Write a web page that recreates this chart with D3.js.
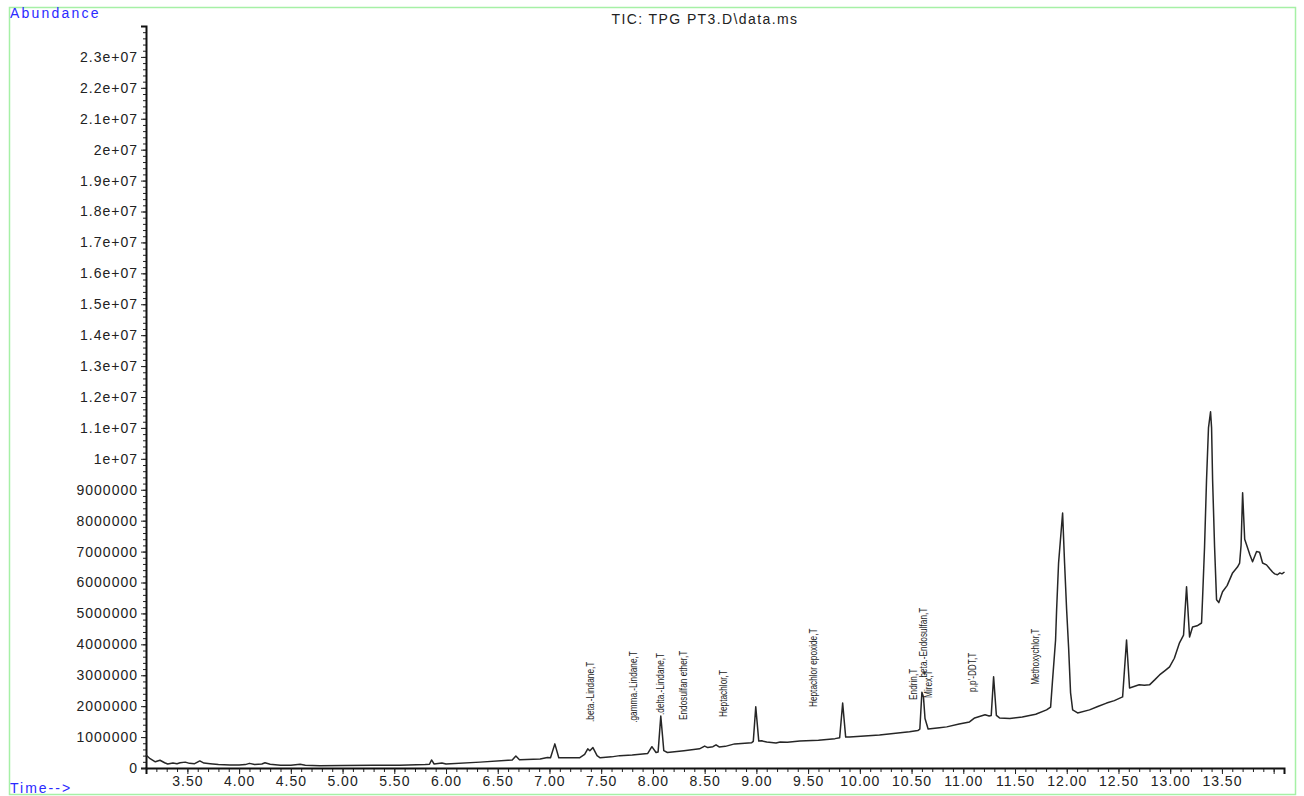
<!DOCTYPE html>
<html>
<head>
<meta charset="utf-8">
<script src="https://cdn.jsdelivr.net/npm/d3@7"></script>
<style>
  body { margin: 0; background: #fff; }
  svg text { font-family: "Liberation Sans", Arial, sans-serif; }
</style>
</head>
<body>
<div id="chart"></div>
<script>

// retention time (min) and total ion count
var rt = [3.10, 3.14, 3.19, 3.235, 3.28, 3.31, 3.36, 3.40, 3.43, 3.48, 3.52, 3.57, 3.62, 3.66, 3.72, 3.80, 3.91, 4.00, 4.06, 4.10,
  4.15, 4.22, 4.25, 4.30, 4.40, 4.50, 4.59, 4.64, 4.78, 5.00, 5.30, 5.55, 5.80, 5.84, 5.86, 5.885, 5.96, 6.00, 6.33, 6.60,
  6.64, 6.675, 6.71, 6.91, 6.98, 7.01, 7.052, 7.09, 7.29, 7.34, 7.37, 7.39, 7.42, 7.46, 7.49, 7.60, 7.68, 7.80, 7.95, 7.99,
  8.03, 8.05, 8.076, 8.105, 8.14, 8.30, 8.45, 8.50, 8.53, 8.58, 8.61, 8.64, 8.70, 8.79, 8.955, 8.97, 8.994, 9.023, 9.05, 9.10,
  9.19, 9.23, 9.30, 9.42, 9.60, 9.76, 9.805, 9.834, 9.863, 9.90, 10.19, 10.48, 10.56, 10.58, 10.60, 10.615, 10.63, 10.66, 10.77, 10.84,
  10.96, 11.06, 11.11, 11.21, 11.25, 11.27, 11.293, 11.32, 11.35, 11.45, 11.57, 11.70, 11.805, 11.844, 11.863, 11.892, 11.902, 11.921, 11.96, 11.979,
  11.999, 12.018, 12.037, 12.057, 12.105, 12.22, 12.30, 12.385, 12.46, 12.54, 12.578, 12.607, 12.70, 12.75, 12.80, 12.85, 12.897, 12.95, 12.994, 13.04,
  13.09, 13.129, 13.158, 13.187, 13.216, 13.26, 13.303, 13.313, 13.332, 13.351, 13.37, 13.39, 13.40, 13.41, 13.429, 13.448, 13.47, 13.506, 13.55, 13.603,
  13.65, 13.671, 13.685, 13.70, 13.72, 13.738, 13.77, 13.796, 13.835, 13.864, 13.893, 13.931, 13.96, 13.989, 14.01, 14.037, 14.06, 14.08, 14.105];

var abundance = [420000, 300000, 200000, 250000, 170000, 130000, 160000, 140000, 170000, 190000, 150000, 140000, 230000, 160000, 140000, 110000, 100000, 100000, 110000, 150000,
  110000, 130000, 170000, 120000, 90000, 90000, 120000, 90000, 70000, 80000, 85000, 90000, 110000, 120000, 260000, 130000, 160000, 130000, 190000, 250000,
  260000, 390000, 270000, 290000, 340000, 330000, 780000, 330000, 330000, 440000, 620000, 560000, 660000, 400000, 330000, 360000, 400000, 420000, 470000, 690000,
  500000, 520000, 1680000, 560000, 500000, 560000, 620000, 710000, 660000, 690000, 750000, 680000, 700000, 780000, 820000, 860000, 1980000, 870000, 880000, 840000,
  810000, 840000, 830000, 870000, 900000, 950000, 980000, 2100000, 1000000, 1000000, 1070000, 1170000, 1210000, 1260000, 2450000, 2300000, 1600000, 1260000, 1300000, 1330000,
  1420000, 1490000, 1620000, 1720000, 1680000, 1700000, 2950000, 1700000, 1620000, 1600000, 1650000, 1740000, 1880000, 1970000, 2850000, 4140000, 5110000, 6630000, 8250000, 6630000,
  5110000, 3900000, 2430000, 1880000, 1780000, 1880000, 1990000, 2100000, 2180000, 2300000, 4140000, 2590000, 2690000, 2680000, 2690000, 2850000, 3010000, 3150000, 3270000, 3550000,
  4050000, 4300000, 5860000, 4240000, 4560000, 4600000, 4690000, 5500000, 7150000, 9300000, 11000000, 11520000, 11000000, 9300000, 7150000, 5440000, 5350000, 5700000, 5900000, 6310000,
  6500000, 6630000, 7200000, 8900000, 7400000, 7220000, 6900000, 6670000, 7000000, 6980000, 6630000, 6570000, 6450000, 6340000, 6280000, 6250000, 6310000, 6280000, 6340000];

// compound annotations: name, retention time, abundance where the label starts
var peakNames = [".beta.-Lindane,T", ".gamma.-Lindane,T", ".delta.-Lindane,T", "Endosulfan ether,T", "Heptachlor,T",
  "Heptachlor epoxide,T", "Endrin,T", ".beta.-Endosulfan,T", "Mirex,T", "p,p'-DDT,T", "Methoxychlor,T"];
var peakRt = [7.39, 7.805, 8.066, 8.288, 8.675, 9.544, 10.51, 10.607, 10.656, 11.08, 11.689];
var peakLabelBase = [1490000, 1460000, 1715000, 1550000, 1650000, 1970000, 2200000, 2850000, 2265000, 2460000, 2690000];

var yTickValues = [0, 1000000, 2000000, 3000000, 4000000, 5000000, 6000000, 7000000, 8000000, 9000000, 10000000, 11000000,
  12000000, 13000000, 14000000, 15000000, 16000000, 17000000, 18000000, 19000000, 20000000, 21000000, 22000000, 23000000];
var yTickLabels = ["0", "1000000", "2000000", "3000000", "4000000", "5000000", "6000000", "7000000", "8000000", "9000000", "1e+07", "1.1e+07",
  "1.2e+07", "1.3e+07", "1.4e+07", "1.5e+07", "1.6e+07", "1.7e+07", "1.8e+07", "1.9e+07", "2e+07", "2.1e+07", "2.2e+07", "2.3e+07"];
var xTickValues = [3.5, 4.0, 4.5, 5.0, 5.5, 6.0, 6.5, 7.0, 7.5, 8.0, 8.5, 9.0, 9.5, 10.0, 10.5, 11.0, 11.5, 12.0, 12.5, 13.0, 13.5, 14.0];
var xTickLabels = ["3.50", "4.00", "4.50", "5.00", "5.50", "6.00", "6.50", "7.00", "7.50", "8.00", "8.50", "9.00", "9.50", "10.00",
  "10.50", "11.00", "11.50", "12.00", "12.50", "13.00", "13.50", ""];


var width = 1304, height = 796;
var plotLeft = 146, plotRight = 1284, plotTop = 26, plotBottom = 768;

var svg = d3.select("#chart").append("svg")
  .attr("width", width)
  .attr("height", height);

// light green frame
svg.append("rect")
  .attr("x", 9.5).attr("y", 7.5)
  .attr("width", 1286).attr("height", 787)
  .attr("fill", "none")
  .attr("stroke", "#a6f0a6")
  .attr("stroke-width", 1.5);

var x = d3.scaleLinear().domain([3.1, 14.1]).range([plotLeft, plotRight]);
var y = d3.scaleLinear().domain([0, 24000000]).range([plotBottom, plotTop]);

// minor ticks first
svg.append("g")
  .attr("class", "y minor")
  .attr("transform", "translate(" + plotLeft + ",0)")
  .call(d3.axisLeft(y).tickValues(d3.range(0, 24000001, 200000)).tickSize(3).tickFormat(""))
  .call(function(g) { g.select(".domain").remove(); });

svg.append("g")
  .attr("class", "x minor")
  .attr("transform", "translate(0," + plotBottom + ")")
  .call(d3.axisBottom(x).tickValues(d3.range(3.2, 14.11, 0.1)).tickSize(4).tickFormat(""))
  .call(function(g) { g.select(".domain").remove(); });

var yAxis = svg.append("g")
  .attr("class", "y axis")
  .attr("transform", "translate(" + plotLeft + ",0)")
  .call(d3.axisLeft(y).tickValues(yTickValues).tickSizeOuter(0).tickSize(5).tickPadding(3)
    .tickFormat(function(d, i) { return yTickLabels[i]; }));

var xAxis = svg.append("g")
  .attr("class", "x axis")
  .attr("transform", "translate(0," + plotBottom + ")")
  .call(d3.axisBottom(x).tickValues(xTickValues).tickSizeOuter(0).tickSize(6).tickPadding(2)
    .tickFormat(function(d, i) { return xTickLabels[i]; }));

svg.selectAll(".axis .domain").attr("stroke", "#111").attr("stroke-width", 2);
svg.selectAll(".tick line").attr("stroke", "#222");
svg.selectAll(".axis text")
  .style("font-size", "14px")
  .style("letter-spacing", "1px")
  .attr("fill", "#222");

// TIC trace
var trace = rt.map(function(t, i) { return [t, abundance[i]]; });
var line = d3.line()
  .x(function(d) { return x(d[0]); })
  .y(function(d) { return y(d[1]); });

svg.append("path")
  .datum(trace)
  .attr("d", line)
  .attr("fill", "none")
  .attr("stroke", "#262626")
  .attr("stroke-width", 1.5)
  .attr("stroke-linejoin", "round");

// peak labels, vertical and condensed
svg.selectAll(".peak")
  .data(peakNames)
  .enter()
  .append("text")
  .attr("class", "peak")
  .attr("transform", function(d, i) {
    return "translate(" + x(peakRt[i]) + "," + y(peakLabelBase[i]) + ") rotate(-90) scale(0.72,1)";
  })
  .attr("dy", "0.35em")
  .style("font-size", "11.5px")
  .attr("fill", "#222")
  .text(function(d) { return d; });

svg.append("text")
  .attr("x", 705).attr("y", 24)
  .attr("text-anchor", "middle")
  .style("font-size", "14px")
  .style("letter-spacing", "1.4px")
  .attr("fill", "#222")
  .text("TIC: TPG PT3.D\\data.ms");

svg.append("text")
  .attr("x", 10).attr("y", 18)
  .style("font-size", "14px")
  .style("letter-spacing", "2.2px")
  .attr("fill", "#2a2aff")
  .text("Abundance");

svg.append("text")
  .attr("x", 10).attr("y", 793)
  .style("font-size", "14px")
  .style("letter-spacing", "2px")
  .attr("fill", "#2a2aff")
  .text("Time-->");

</script>
</body>
</html>
